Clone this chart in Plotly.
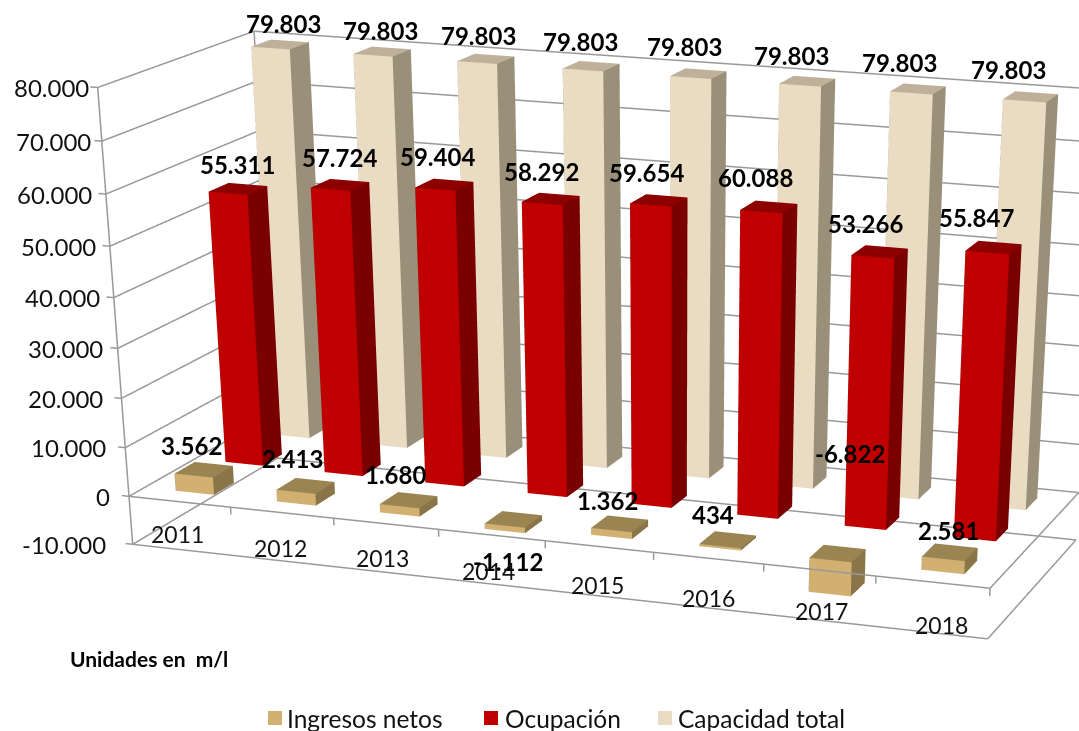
import plotly.graph_objects as go

years = ["2011", "2012", "2013", "2014", "2015", "2016", "2017", "2018"]
ingresos = [3562, 2413, 1680, -1112, 1362, 434, -6822, 2581]
ocupacion = [55311, 57724, 59404, 58292, 59654, 60088, 53266, 55847]
capacidad = [79803] * 8
z_ticks = [-10000, 0, 10000, 20000, 30000, 40000, 50000, 60000, 70000, 80000]

def es(v):
    return f"{v:,}".replace(",", ".")

# figure is larger than the window: it gives the long lens of the original chart
FIG_W, FIG_H = 1500, 3000
GRID = "#999999"
FONT = "Lato"
BAR_W = 0.19
BAR_D = 0.2

# label nudges in pixels (dx, dy up), one per bar or tick
ing_off = [(-12, 24), (-13, 27), (-13, 26), (-5, -42), (-12, 23), (-15, 25), (12, 100), (-1, 22)]
ocu_off = [(0, 24), (-1, 27), (-7, 28), (-9, 27), (-12, 28), (-13, 29), (-14, 28), (-17, 30)]
cap_off = [(3, 21), (-2, 21), (-7, 23), (-11, 25), (-14, 27), (-16, 26), (-19, 26), (-22, 27)]
tick_dx = [-25, -17, -17, -16, -13, -12, -12, -12, -9, -7]
year_off = [(-5, 16), (-4, 13), (-5, 15), (-4, 13), (-2, 11), (0, 10), (3, 9), (11, 8)]

series = [
    ("Ingresos netos", ingresos, 0.5, ("#d2b072", "#8a7548", "#9a8452"), ing_off),
    ("Ocupación", ocupacion, 1.5, ("#c00000", "#7a0000", "#8c0000"), ocu_off),
    ("Capacidad total", capacidad, 2.5, ("#eadcc3", "#9a9079", "#bfb09a"), cap_off),
]

def add_box(b, x0, x1, y0, y1, z0, z1, cols):
    front, side, top = cols
    n = len(b["x"])
    for xx, yy, zz in [(x0, y0, z0), (x1, y0, z0), (x1, y1, z0), (x0, y1, z0),
                       (x0, y0, z1), (x1, y0, z1), (x1, y1, z1), (x0, y1, z1)]:
        b["x"].append(xx); b["y"].append(yy); b["z"].append(zz)
    faces = [((0, 1, 5), front), ((0, 5, 4), front), ((1, 2, 6), side), ((1, 6, 5), side),
             ((4, 5, 6), top), ((4, 6, 7), top), ((2, 3, 7), side), ((2, 7, 6), side),
             ((3, 0, 4), side), ((3, 4, 7), side), ((0, 1, 2), side), ((0, 2, 3), side)]
    for (a, c, d), col in faces:
        b["i"].append(n + a); b["j"].append(n + c); b["k"].append(n + d); b["fc"].append(col)

fig = go.Figure()
annots = []
for name, vals, row, cols, off in series:
    b = dict(x=[], y=[], z=[], i=[], j=[], k=[], fc=[])
    for idx, v in enumerate(vals):
        c = idx + 0.5
        add_box(b, c - BAR_W, c + BAR_W, row - BAR_D, row + BAR_D, min(0, v), max(0, v), cols)
    fig.add_trace(go.Mesh3d(x=b["x"], y=b["y"], z=b["z"], i=b["i"], j=b["j"], k=b["k"], name=name,
                            facecolor=b["fc"], flatshading=True, showlegend=False, hoverinfo="skip",
                            lighting=dict(ambient=1, diffuse=0, specular=0, fresnel=0, roughness=1)))
    for idx, v in enumerate(vals):
        annots.append(dict(x=idx + 0.5, y=row, z=max(0, v), text=f"<b>{es(v)}</b>", showarrow=False,
                           font=dict(family=FONT, size=24, color="black"),
                           xshift=off[idx][0], yshift=off[idx][1]))

# frame and grid
lx, ly, lz = [], [], []
def seg(p, q):
    lx.extend([p[0], q[0], None]); ly.extend([p[1], q[1], None]); lz.extend([p[2], q[2], None])
zmin, zmax = z_ticks[0], z_ticks[-1]
n = len(years)
for t in z_ticks:
    seg((-0.07, 0, t), (0, 0, t))
    seg((0, 0, t), (0, 3, t))
    seg((0, 3, t), (n, 3, t))
seg((0, 0, zmin), (0, 0, zmax))
seg((0, 3, zmin), (0, 3, zmax))
seg((0, 0, zmin), (n, 0, zmin))
seg((n, 0, zmin), (n, 3, zmin))
seg((0, 0, 0), (n, 0, 0))
seg((n, 0, 0), (n, 3, 0))
for i in range(1, n + 1):
    seg((i, 0, 0), (i, 0, -1500))
fig.add_trace(go.Scatter3d(x=lx, y=ly, z=lz, mode="lines", line=dict(color=GRID, width=3),
                           showlegend=False, hoverinfo="skip", connectgaps=False))

for t, dx in zip(z_ticks, tick_dx):
    annots.append(dict(x=0, y=0, z=t, text=es(t), showarrow=False, xanchor="right", xshift=dx,
                       font=dict(family=FONT, size=24, color="#111111")))
for idx, y in enumerate(years):
    annots.append(dict(x=idx + 0.5, y=0, z=zmin, text=y, showarrow=False,
                       xshift=year_off[idx][0], yshift=year_off[idx][1],
                       font=dict(family=FONT, size=23, color="#111111")))

def px(x):
    return x / FIG_W
def py(y):
    return 1 - y / FIG_H

page_annots = [dict(text="<b>Unidades en  m/l</b>", x=px(68), y=py(658), xref="paper", yref="paper",
                    xanchor="left", yanchor="middle", showarrow=False, font=dict(family=FONT, size=21, color="black"))]
shapes = []
for (name, _, _, cols, _), sx, tx in zip(series, [268, 484, 658], [285, 503, 676]):
    shapes.append(dict(type="rect", xref="paper", yref="paper", x0=px(sx), x1=px(sx + 14), y0=py(725), y1=py(711),
                       fillcolor=cols[0], line_width=0))
    page_annots.append(dict(text=name, x=px(tx), y=py(718), xref="paper", yref="paper", xanchor="left",
                            yanchor="middle", showarrow=False, font=dict(family=FONT, size=24.5, color="#111111")))

hidden = dict(visible=False)
fig.update_layout(
    width=FIG_W, height=FIG_H, margin=dict(l=0, r=0, t=0, b=0, pad=0),
    paper_bgcolor="white", font=dict(family=FONT), showlegend=False,
    scene=dict(
        domain=dict(x=[0, 1], y=[0, 1]),
        xaxis=dict(hidden, range=[-0.5, 8.5]),
        yaxis=dict(hidden, range=[-0.2, 3.2]),
        zaxis=dict(hidden, range=[-12000, 82000]),
        aspectmode="manual",
        aspectratio=dict(x=0.8170, y=0.3223, z=0.3703),
        camera=dict(eye=dict(x=1.0326, y=-2.7954, z=0.6798), center=dict(x=0.3401, y=-0.6396, z=-0.6725),
                    up=dict(x=-0.005, y=-0.021, z=1), projection=dict(type="perspective")),
        annotations=annots,
        dragmode=False,
    ),
    annotations=page_annots, shapes=shapes,
)
fig.write_html("out.html", config=dict(displayModeBar=False),
               post_script="document.body.style.margin='0';document.documentElement.style.overflow='hidden';document.body.style.overflow='hidden';document.body.style.height='100vh';")
